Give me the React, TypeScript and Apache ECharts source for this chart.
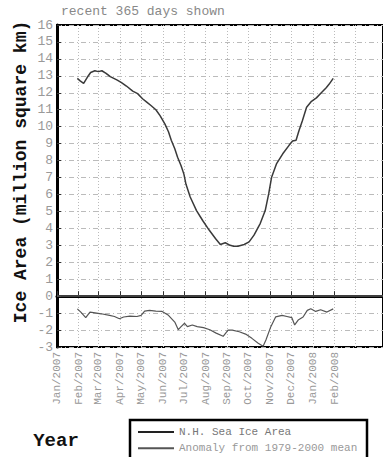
import React, { useEffect, useRef } from "react";
import * as echarts from "echarts";

// Tick labels (month starts)
const tickDates = [
  "2007-01-01", "2007-02-01", "2007-03-01", "2007-04-01", "2007-05-01",
  "2007-06-01", "2007-07-01", "2007-08-01", "2007-09-01", "2007-10-01",
  "2007-11-01", "2007-12-01", "2008-01-01", "2008-02-01", "2008-03-01",
];
const tickLabels = [
  "Jan/2007", "Feb/2007", "Mar/2007", "Apr/2007", "May/2007", "Jun/2007",
  "Jul/2007", "Aug/2007", "Sep/2007", "Oct/2007", "Nov/2007", "Dec/2007",
  "Jan/2008", "Feb/2008", "Mar/2008",
];
const axisStart = "2007-01-01";
const axisEnd = "2008-04-10";

// N.H. Sea Ice Area (million km²)
const areaDates = [
  "2007-01-30", "2007-02-03", "2007-02-08", "2007-02-13", "2007-02-18", "2007-02-24",
  "2007-03-01", "2007-03-06", "2007-03-12", "2007-03-18", "2007-03-23", "2007-03-28",
  "2007-04-03", "2007-04-10", "2007-04-19", "2007-04-26", "2007-05-03", "2007-05-09",
  "2007-05-15", "2007-05-22", "2007-05-28", "2007-06-04", "2007-06-09", "2007-06-13",
  "2007-06-18", "2007-06-22", "2007-06-27", "2007-07-01", "2007-07-04", "2007-07-10",
  "2007-07-19", "2007-07-28", "2007-08-06", "2007-08-15", "2007-08-22", "2007-08-29",
  "2007-09-05", "2007-09-10", "2007-09-16", "2007-09-25", "2007-10-02", "2007-10-09",
  "2007-10-18", "2007-10-25", "2007-10-30", "2007-11-03", "2007-11-10", "2007-11-19",
  "2007-11-28", "2007-12-03", "2007-12-08", "2007-12-12", "2007-12-17", "2007-12-23",
  "2007-12-30", "2008-01-06", "2008-01-13", "2008-01-20", "2008-01-24", "2008-01-30",
];
const areaValues = [
  12.85, 12.7, 12.55, 12.9, 13.2, 13.3,
  13.25, 13.3, 13.15, 12.95, 12.85, 12.75,
  12.6, 12.4, 12.1, 11.95, 11.65, 11.45,
  11.25, 11.0, 10.65, 10.15, 9.7, 9.2,
  8.7, 8.2, 7.7, 7.2, 6.6, 5.85,
  5.05, 4.45, 3.9, 3.4, 3.05, 3.15,
  3.0, 2.95, 2.95, 3.05, 3.2, 3.6,
  4.3, 5.05, 6.05, 7.0, 7.8, 8.4,
  8.9, 9.15, 9.2, 9.75, 10.35, 11.15,
  11.5, 11.7, 12.0, 12.3, 12.5, 12.85,
];

// Anomaly from 1979-2000 mean (million km²)
const anomalyDates = [
  "2007-01-30", "2007-02-04", "2007-02-11", "2007-02-17", "2007-02-22", "2007-03-05",
  "2007-03-17", "2007-03-24", "2007-03-31", "2007-04-06", "2007-04-15", "2007-04-25",
  "2007-05-01", "2007-05-06", "2007-05-13", "2007-05-22", "2007-05-31", "2007-06-09",
  "2007-06-18", "2007-06-23", "2007-06-27", "2007-07-02", "2007-07-06", "2007-07-13",
  "2007-07-20", "2007-07-29", "2007-08-07", "2007-08-16", "2007-08-26", "2007-09-02",
  "2007-09-08", "2007-09-18", "2007-09-27", "2007-10-06", "2007-10-15", "2007-10-22",
  "2007-10-26", "2007-11-02", "2007-11-09", "2007-11-18", "2007-11-25", "2007-12-02",
  "2007-12-06", "2007-12-11", "2007-12-18", "2007-12-24", "2007-12-29", "2008-01-05",
  "2008-01-12", "2008-01-21", "2008-01-30",
];
const anomalyValues = [
  -0.75, -0.94, -1.27, -0.94, -0.97, -1.04,
  -1.13, -1.2, -1.33, -1.23, -1.18, -1.2,
  -1.13, -0.88, -0.84, -0.88, -0.9, -1.13,
  -1.53, -1.98, -1.8, -1.6, -1.8, -1.7,
  -1.8, -1.86, -1.98, -2.18, -2.37, -2.0,
  -2.0, -2.1, -2.24, -2.49, -2.78, -2.95,
  -2.59, -1.8, -1.22, -1.13, -1.2, -1.27,
  -1.7, -1.41, -1.23, -0.84, -0.74, -0.9,
  -0.8, -0.94, -0.75,
];

const MONO = "'Liberation Mono', 'DejaVu Sans Mono', monospace";

function buildDays(start: string, end: string): string[] {
  const out: string[] = [];
  const s = Date.parse(start + "T00:00:00Z");
  const e = Date.parse(end + "T00:00:00Z");
  for (let t = s; t <= e; t += 86400000) {
    out.push(new Date(t).toISOString().slice(0, 10));
  }
  return out;
}

export default function App() {
  const ref = useRef<HTMLDivElement>(null);

  useEffect(() => {
    if (!ref.current) return;
    const chart = echarts.init(ref.current, undefined, { renderer: "svg" });
    const days = buildDays(axisStart, axisEnd);
    const isTick = (_i: number, v: string) => tickDates.indexOf(v) >= 0;

    chart.setOption({
      animation: false,
      backgroundColor: "#fff",
      title: {
        text: "recent 365 days shown",
        left: 61,
        top: 5,
        padding: 0,
        textStyle: { fontFamily: MONO, fontSize: 13, fontWeight: "normal", color: "#888" },
      },
      grid: {
        left: 57,
        top: 25,
        right: -14,
        bottom: 110,
        show: true,
        borderColor: "#000",
        borderWidth: 2,
        backgroundColor: "#fff",
      },
      legend: {
        orient: "vertical",
        left: 138,
        top: 425,
        padding: 0,
        itemGap: 2.3,
        itemWidth: 36,
        itemHeight: 2,
        icon: "rect",
        textStyle: { fontFamily: MONO, fontSize: 11, lineHeight: 14, color: "#888" },
        data: [
          { name: "N.H. Sea Ice Area", itemStyle: { color: "#222" }, textStyle: { color: "#777" } },
          { name: "Anomaly from 1979-2000 mean", itemStyle: { color: "#555" }, textStyle: { color: "#999" } },
        ],
      },
      xAxis: {
        type: "category",
        data: days,
        boundaryGap: false,
        axisLine: { lineStyle: { color: "#000", width: 3 } },
        axisTick: { inside: true, length: 5, interval: isTick, lineStyle: { color: "#333", width: 1 } },
        axisLabel: {
          interval: isTick,
          rotate: 90,
          margin: 5,
          fontFamily: MONO,
          fontSize: 11,
          color: "#999",
          showMaxLabel: false,
          formatter: (v: string) => {
            const i = tickDates.indexOf(v);
            return i >= 0 ? tickLabels[i] : "";
          },
        },
        splitLine: {
          show: true,
          interval: isTick,
          lineStyle: { color: "#bbb", type: [1, 2], width: 1 },
        },
      },
      yAxis: {
        type: "value",
        min: -3,
        max: 16,
        interval: 1,
        axisLine: { show: true, lineStyle: { color: "#000", width: 3 } },
        axisTick: { show: true, inside: true, length: 4, lineStyle: { color: "#333" } },
        axisLabel: { fontFamily: MONO, fontSize: 13, color: "#999", margin: 4 },
        splitLine: { show: true, lineStyle: { color: "#bbb", type: [5, 3, 1, 3], width: 1 } },
      },
      graphic: [
        {
          type: "rect",
          z: 0,
          shape: { x: 130, y: 420, width: 237, height: 60 },
          style: { fill: "#fff", stroke: "#000", lineWidth: 2.5 },
        },
        {
          type: "text",
          x: 21,
          y: 172,
          rotation: Math.PI / 2,
          style: {
            text: "Ice Area (million square km)",
            font: "bold 18px " + MONO,
            fill: "#111",
            align: "center",
            verticalAlign: "middle",
          },
        },
        {
          type: "text",
          x: 56,
          y: 441,
          style: {
            text: "Year",
            font: "bold 19px " + MONO,
            fill: "#111",
            align: "center",
            verticalAlign: "middle",
          },
        },
      ],
      series: [
        {
          name: "N.H. Sea Ice Area",
          type: "line",
          symbol: "none",
          data: areaDates.map((d, i) => [d, areaValues[i]]),
          lineStyle: { color: "#3a3a3a", width: 1.5 },
          itemStyle: { color: "#222" },
        },
        {
          name: "Anomaly from 1979-2000 mean",
          type: "line",
          symbol: "none",
          data: anomalyDates.map((d, i) => [d, anomalyValues[i]]),
          lineStyle: { color: "#555", width: 1.2 },
          itemStyle: { color: "#555" },
          markLine: {
            silent: true,
            symbol: "none",
            label: { show: false },
            lineStyle: { color: "#555", width: 1.5, type: "solid" },
            data: [{ yAxis: 0 }],
          },
        },
      ],
    });
    return () => chart.dispose();
  }, []);

  return (
    <div
      ref={ref}
      style={{ position: "absolute", left: 0, top: 0, width: 383, height: 457, background: "#fff" }}
    />
  );
}
